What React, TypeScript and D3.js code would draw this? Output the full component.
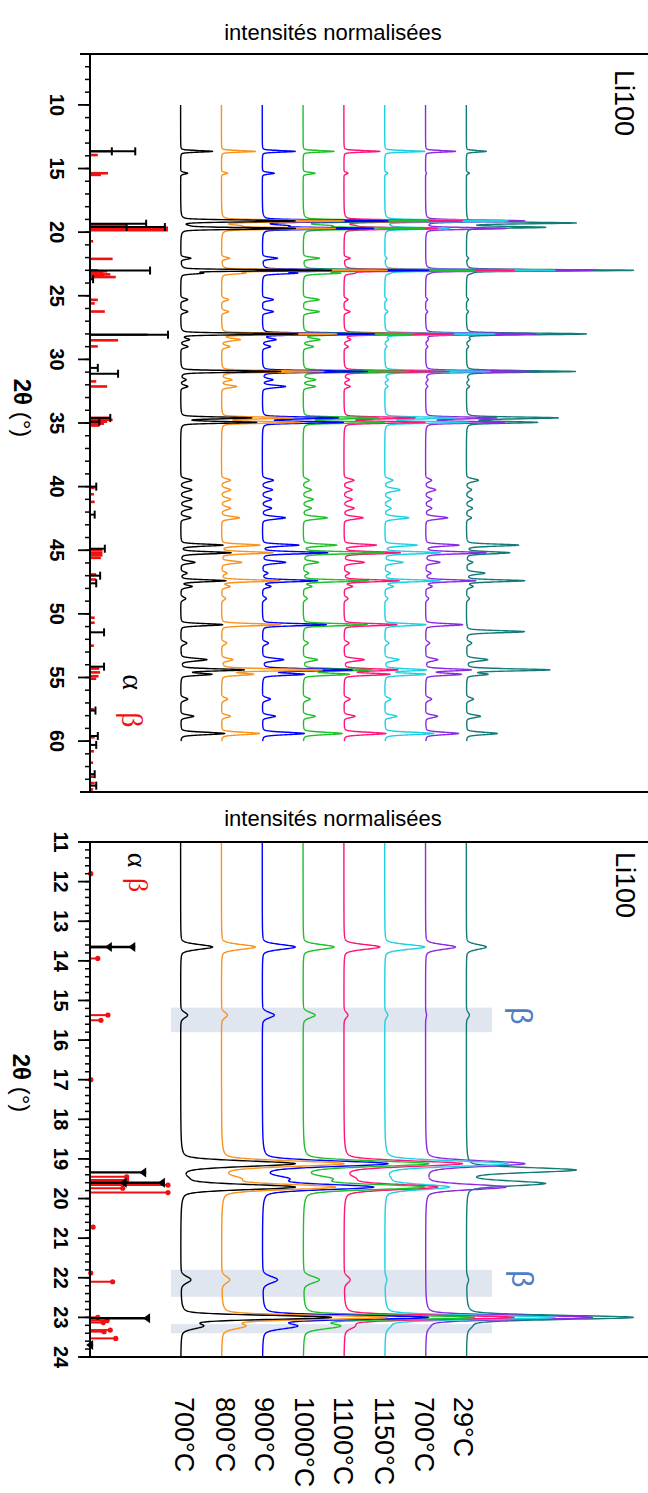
import React, { useEffect } from 'react';
import * as d3 from 'd3';

const W = 648;
const H = 1493;

// series (left -> right)
const SERIES_LABELS = ['700°C', '800°C', '900°C', '1000°C', '1100°C', '1150°C', '700°C', '29°C'];
const SERIES_COLORS = ['#000000', '#f7931e', '#0000ff', '#1fbf2a', '#ff1477', '#1ed0e3', '#8a2be2', '#137a78'];

// peak table (2θ, FWHM in degrees)
const PEAK_POS = [13.65, 15.37, 19.12, 19.28, 19.5, 19.62, 19.71, 22.05, 23.0, 23.22, 25.3, 26.25, 28.0, 28.45, 29.0, 30.95, 31.6, 32.13, 34.6, 34.95, 39.5, 40.25, 41.0, 41.7, 42.45, 44.6, 45.2, 45.95, 46.8, 47.4, 47.85, 48.8, 50.85, 51.4, 52.3, 53.6, 54.4, 54.75, 56.7, 58.05, 59.4];
const PEAK_FWHM = [0.14, 0.16, 0.16, 0.14, 0.15, 0.14, 0.15, 0.19, 0.12, 0.16, 0.22, 0.22, 0.14, 0.22, 0.22, 0.15, 0.22, 0.22, 0.16, 0.16, 0.27, 0.27, 0.27, 0.27, 0.24, 0.19, 0.19, 0.22, 0.22, 0.18, 0.22, 0.27, 0.19, 0.19, 0.27, 0.24, 0.19, 0.19, 0.27, 0.24, 0.22];

// normalized intensities of each peak, per series
const I_700A = [32, 7, 114, 0, 4, 0, 114, 10, 150, 20, 7, 7, 117, 8, 7, 100, 5, 7, 70, 75, 11, 11, 11, 11, 10, 42, 50, 14, 6, 45, 11, 5, 42, 0, 6, 26, 63, 30, 7, 13, 44];
const I_800 = [34, 6, 122, 0, 15, 0, 113, 8, 165, 21, 7, 7, 115, 18, 8, 102, 10, 15, 70, 78, 9, 9, 9, 9, 18, 38, 51, 20, 5, 58, 8, 4, 59, 0, 5, 11, 100, 30, 6, 9, 38];
const I_900 = [33, 12, 125, 0, 22, 0, 110, 15, 165, 32, 11, 11, 112, 13, 8, 105, 10, 23, 75, 80, 11, 10, 9, 9, 23, 36, 65, 23, 5, 55, 8, 4, 64, 0, 6, 21, 89, 40, 8, 13, 42];
const I_1000 = [31, 12, 125, 0, 24, 0, 120, 16, 170, 34, 16, 16, 110, 16, 10, 105, 12, 12, 75, 80, 6, 8, 10, 8, 24, 33, 80, 15, 5, 65, 8, 4, 64, 0, 5, 14, 68, 45, 7, 12, 39];
const I_1100 = [36, 4, 118, 0, 8, 0, 93, 6, 170, 8, 4, 6, 110, 6, 4, 105, 5, 6, 70, 80, 10, 8, 8, 10, 19, 32, 56, 20, 5, 55, 8, 4, 53, 0, 5, 20, 53, 45, 6, 11, 42];
const I_1150 = [40, 3, 123, 0, 3, 0, 64, 2, 170, 3, 2, 3, 110, 3, 2, 105, 3, 3, 70, 82, 8, 15, 6, 6, 24, 32, 55, 18, 5, 55, 8, 3, 41, 0, 4, 14, 41, 40, 6, 12, 49];
const I_700B = [30, 1, 99, 0, 0, 0, 80, 0, 167, 2, 2, 2, 111, 2, 2, 107, 2, 2, 70, 78, 6, 10, 6, 6, 22, 33, 60, 14, 5, 50, 6, 3, 37, 0, 4, 12, 45, 35, 6, 12, 33];
const I_29 = [20, 3, 0, 109, 0, 78, 0, 2, 167, 3, 2, 2, 120, 3, 2, 109, 2, 3, 91, 70, 12, 5, 6, 6, 5, 52, 43, 6, 18, 58, 6, 3, 0, 58, 5, 21, 83, 20, 7, 14, 31];
const SERIES_INT = [I_700A, I_800, I_900, I_1000, I_1100, I_1150, I_700B, I_29];

// reference reflections (2θ, relative intensity 0-100)
const ALPHA_POS = [13.65, 13.65, 19.34, 19.6, 19.6, 23.02, 23.7, 28.07, 30.67, 31.13, 34.6, 34.9, 40.0, 42.2, 44.88, 47.0, 47.6, 51.45, 54.15, 57.6, 59.6, 60.3, 62.6, 63.5];
const ALPHA_INT = [58, 28, 72, 96, 47, 77, 4, 100, 10, 36, 26, 12, 8, 6, 19, 13, 8, 18, 18, 7, 10, 8, 6, 8];
const BETA_POS = [11.8, 13.94, 15.37, 15.5, 17.0, 19.45, 19.53, 19.66, 19.74, 19.85, 20.72, 21.88, 22.1, 23.0, 23.08, 23.13, 23.32, 23.36, 23.53, 25.32, 25.6, 26.24, 28.07, 28.5, 28.98, 31.73, 32.13, 34.6, 34.75, 34.9, 35.05, 35.2, 40.1, 40.6, 41.2, 45.0, 45.2, 45.4, 45.6, 46.9, 47.3, 50.3, 50.7, 52.5, 54.3, 54.6, 54.9, 55.1, 57.5, 59.7, 60.8, 61.7, 62.8, 63.3, 63.8];
const BETA_INT = [1, 10, 23, 14, 1, 47, 47, 100, 42, 100, 4, 1, 29, 10, 22, 17, 26, 18, 33, 10, 6, 19, 74, 36, 10, 8, 22, 25, 29, 22, 18, 12, 6, 5, 6, 16, 16, 16, 14, 8, 8, 6, 6, 5, 12, 13, 11, 8, 5, 6, 5, 4, 5, 6, 4];

// highlighted β regions (bottom panel)
const BANDS = [[15.18, 15.8], [21.8, 22.48], [23.17, 23.4]];

const TOP_TICK_LABELS = [10, 15, 20, 25, 30, 35, 40, 45, 50, 55, 60];
const BOT_TICK_LABELS = [11, 12, 13, 14, 15, 16, 17, 18, 19, 20, 21, 22, 23, 24];

const SANS = 'Liberation Sans, Arial, sans-serif';
const SERIF = 'Liberation Serif, Times New Roman, serif';
const ETA = 0.3;
const OFFSET0 = 90.6;
const OFFSET_STEP = 40.82;

function profile(ints: number[], a: number, b: number, step: number): [number, number][] {
  const n = Math.round((b - a) / step);
  return d3.range(n + 1).map((i) => {
    const t = a + i * step;
    let s = 0;
    for (let k = 0; k < PEAK_POS.length; k++) {
      const h = ints[k];
      if (!h) continue;
      const d = (t - PEAK_POS[k]) / PEAK_FWHM[k];
      if (Math.abs(d) > 60) continue;
      s += h * (ETA / (1 + 4 * d * d) + (1 - ETA) * Math.exp(-2.7726 * d * d));
    }
    return [t, s] as [number, number];
  });
}

function Panel({ y, yTop, yBottom, domain, majors, minors, labels, labelX, step, tMin, tMax, topStyle }: any) {
  const xI = d3.scaleLinear().domain([0, 558]).range([90, 648]);
  const xRef = d3.scaleLinear().domain([0, 100]).range([90, 168]);
  const inDom = (v: number) => v >= domain[0] && v <= domain[1];
  const order = [7, 6, 5, 4, 3, 2, 1, 0];
  return (
    <g>
      {!topStyle && BANDS.map((b, i) => (
        <rect key={'b' + i} x={171} width={321} y={y(b[0])} height={y(b[1]) - y(b[0])} fill="#dfe6f0" />
      ))}
      {order.map((si) => {
        const off = OFFSET0 + OFFSET_STEP * si;
        const pts = profile(SERIES_INT[si], tMin, tMax, step);
        const line = d3.line<[number, number]>().x((d) => xI(off + d[1])).y((d) => y(d[0]));
        return <path key={'s' + si} d={line(pts) || ''} fill="none" stroke={SERIES_COLORS[si]} strokeWidth={1.4} strokeLinejoin="round" />;
      })}
      {BETA_POS.map((p, i) => inDom(p) ? (
        <g key={'r' + i}>
          <line x1={xRef(0)} x2={xRef(BETA_INT[i])} y1={y(p)} y2={y(p)} stroke="#f01010" strokeWidth={topStyle ? 2.6 : 2} />
          {!topStyle && <circle cx={xRef(BETA_INT[i])} cy={y(p)} r={2.6} fill="#f01010" />}
        </g>
      ) : null)}
      {ALPHA_POS.map((p, i) => inDom(p) ? (
        <g key={'a' + i}>
          <line x1={xRef(0)} x2={xRef(ALPHA_INT[i])} y1={y(p)} y2={y(p)} stroke="#000" strokeWidth={topStyle ? 2 : 2.4} />
          {topStyle ? (
            <line x1={xRef(ALPHA_INT[i])} x2={xRef(ALPHA_INT[i])} y1={y(p) - 4} y2={y(p) + 4} stroke="#000" strokeWidth={2} />
          ) : (
            <path d={`M${xRef(ALPHA_INT[i])},${y(p) - 5}L${xRef(ALPHA_INT[i])},${y(p) + 5}L${xRef(ALPHA_INT[i]) - 7},${y(p)}Z`} fill="#000" />
          )}
        </g>
      ) : null)}
      <line x1={80} x2={648} y1={yTop} y2={yTop} stroke="#000" strokeWidth={2} />
      <line x1={80} x2={648} y1={yBottom} y2={yBottom} stroke="#000" strokeWidth={2} />
      <line x1={90} x2={90} y1={yTop} y2={yBottom} stroke="#000" strokeWidth={2} />
      {minors.map((t: number) => (
        <line key={'m' + t} x1={85} x2={90} y1={y(t)} y2={y(t)} stroke="#000" strokeWidth={1.5} />
      ))}
      {majors.map((t: number) => (
        <line key={'M' + t} x1={78} x2={90} y1={y(t)} y2={y(t)} stroke="#000" strokeWidth={1.8} />
      ))}
      {labels.map((t: number) => (
        <text key={'l' + t} x={labelX} y={y(t)} transform={`rotate(90,${labelX},${y(t)})`} textAnchor="middle" dominantBaseline="central" fontFamily={SANS} fontWeight="bold" fontSize={20}>{t}</text>
      ))}
    </g>
  );
}

export default function App() {
  useEffect(() => {
    document.body.style.margin = '0';
  }, []);
  const yTopScale = d3.scaleLinear().domain([6, 64]).range([54, 792]);
  const yBotScale = d3.scaleLinear().domain([11, 24]).range([842, 1357]);
  const rot = (x: number, y: number) => `rotate(90,${x},${y})`;
  const topMinors = d3.range(6, 65, 1);
  const topMajors = d3.range(10, 61, 5);
  const botMinors = d3.range(55, 121).map((i) => i / 5);
  const botMajors = d3.range(11, 25);
  const labelXs = [184, 225, 264, 304, 343, 384, 424, 463];
  return (
    <svg width={W} height={H} style={{ position: 'absolute', left: 0, top: 0, background: '#fff' }} xmlns="http://www.w3.org/2000/svg">
      <rect x={0} y={0} width={W} height={H} fill="#fff" />
      <text x={333} y={40} textAnchor="middle" fontFamily={SANS} fontSize={22}>intensités normalisées</text>
      <text x={333} y={826} textAnchor="middle" fontFamily={SANS} fontSize={22}>intensités normalisées</text>

      <Panel y={yTopScale} yTop={54} yBottom={792} domain={[6, 64]} majors={topMajors} minors={topMinors} labels={TOP_TICK_LABELS} labelX={57} step={0.01} tMin={10} tMax={60} topStyle={true} />
      <Panel y={yBotScale} yTop={842} yBottom={1357} domain={[11, 24]} majors={botMajors} minors={botMinors} labels={BOT_TICK_LABELS} labelX={61} step={0.005} tMin={11} tMax={24} topStyle={false} />

      <text x={23} y={408} transform={rot(23, 408)} textAnchor="middle" dominantBaseline="central" fontFamily={SANS} fontSize={24}>
        <tspan fontWeight="bold">2θ</tspan><tspan> (°)</tspan>
      </text>
      <text x={22} y={1083} transform={rot(22, 1083)} textAnchor="middle" dominantBaseline="central" fontFamily={SANS} fontSize={24}>
        <tspan fontWeight="bold">2θ</tspan><tspan> (°)</tspan>
      </text>

      <text x={624} y={103} transform={rot(624, 103)} textAnchor="middle" dominantBaseline="central" fontFamily={SANS} fontSize={27}>Li100</text>
      <text x={625} y={885} transform={rot(625, 885)} textAnchor="middle" dominantBaseline="central" fontFamily={SANS} fontSize={27}>Li100</text>

      <text x={133} y={682} transform={rot(133, 682)} textAnchor="middle" dominantBaseline="central" fontFamily={SERIF} fontSize={30}>α</text>
      <text x={132} y={720} transform={rot(132, 720)} textAnchor="middle" dominantBaseline="central" fontFamily={SERIF} fontSize={30} fill="#f01010">β</text>
      <text x={137} y={860} transform={rot(137, 860)} textAnchor="middle" dominantBaseline="central" fontFamily={SERIF} fontSize={28}>α</text>
      <text x={138} y={885} transform={rot(138, 885)} textAnchor="middle" dominantBaseline="central" fontFamily={SERIF} fontSize={28} fill="#f01010">β</text>
      <text x={521} y={1016} transform={rot(521, 1016)} textAnchor="middle" dominantBaseline="central" fontFamily={SANS} fontSize={30} fill="#4f7fc1">β</text>
      <text x={522} y={1279} transform={rot(522, 1279)} textAnchor="middle" dominantBaseline="central" fontFamily={SANS} fontSize={30} fill="#4f7fc1">β</text>

      {SERIES_LABELS.map((s, i) => (
        <text key={'sl' + i} x={labelXs[i]} y={1397} transform={rot(labelXs[i], 1397)} textAnchor="start" dominantBaseline="central" fontFamily={SANS} fontSize={27}>{s}</text>
      ))}
    </svg>
  );
}
